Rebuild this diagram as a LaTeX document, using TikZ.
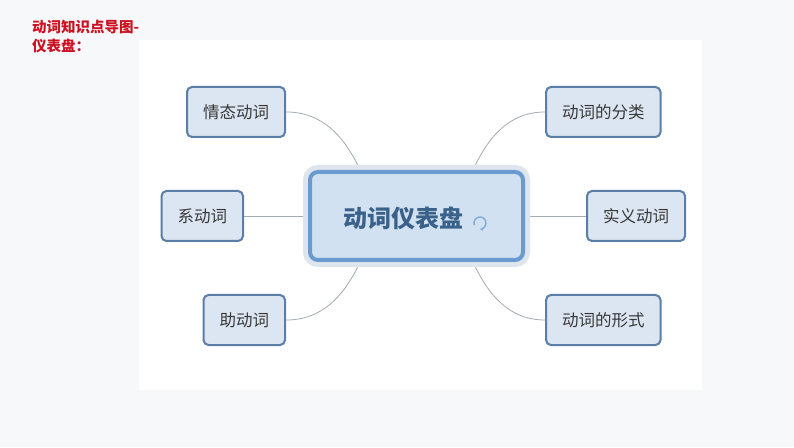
\documentclass[tikz,border=0pt]{standalone}
\usepackage{fontspec}
\setmainfont{Noto Sans CJK SC}
\usetikzlibrary{arrows.meta, positioning, backgrounds, calc}

\definecolor{pageback}{HTML}{F7F8FA}
\definecolor{topicfill}{HTML}{DCE6F2}
\definecolor{topicline}{HTML}{5A7EA6}
\definecolor{topictext}{HTML}{383838}
\definecolor{hubfill}{HTML}{D2E1F1}
\definecolor{hubline}{HTML}{6A9AD0}
\definecolor{hubglow}{HTML}{DEE5ED}
\definecolor{hubtext}{HTML}{3A6189}
\definecolor{branchline}{HTML}{A3ABB3}
\definecolor{iconline}{HTML}{7FAADA}
\definecolor{headred}{HTML}{CC1020}

\begin{document}
\begin{tikzpicture}[x=1pt, y=1pt,
    topic/.style={rectangle, draw=topicline, line width=2pt, fill=topicfill,
                  rounded corners=5pt, minimum height=50pt, inner xsep=16pt,
                  font=\fontsize{16.5}{18}\selectfont, text=topictext},
    hub/.style={rectangle, draw=hubline, line width=4pt, fill=hubfill,
                rounded corners=8pt, minimum width=213pt, minimum height=88pt,
                preaction={draw=hubglow, line width=14pt},
                font=\fontsize{24}{28}\selectfont\bfseries, text=hubtext},
    branch/.style={draw=branchline, line width=0.8pt},
    heading/.style={font=\fontsize{14.5}{19}\selectfont\bfseries, text=headred,
                    align=left, inner sep=0pt},
]
    \useasboundingbox (0,0) rectangle (794,447);

    \node[heading, anchor=north west] (title) at (32,427) {动词知识点导图-\\仪表盘：};

    % central topic
    \node[hub] (dash) at (416.5,231) {\raisebox{-12pt}[0pt][0pt]{动词仪表盘\hspace{26pt}}};
    \draw[iconline, line width=1.4pt, -{Stealth[length=4pt]}]
        ([shift={(63.5,-7)}]dash.center) ++(200:6) arc[start angle=200, end angle=-95, radius=6];

    % left branches
    \node[topic] (modal) [above left=32pt and 22pt of dash] {情态动词};
    \node[topic] (link)  [left=64pt of dash] {系动词};
    \node[topic] (aux)   [below left=32pt and 22pt of dash] {助动词};

    % right branches
    \node[topic] (kinds)    [above right=32pt and 20pt of dash] {动词的分类};
    \node[topic] (notional) [right=61pt of dash] {实义动词};
    \node[topic] (forms)    [below right=32pt and 20pt of dash] {动词的形式};

    \begin{scope}[on background layer]
        \fill[pageback] (0,0) rectangle (794,447);
        \fill[white] (139,57) rectangle (702,407);

        \draw[branch] (modal.east) to[out=0, in=115] ($(dash.north west)!0.24!(dash.north east)$);
        \draw[branch] (link.east) -- (dash.west);
        \draw[branch] (aux.east) to[out=0, in=-115] ($(dash.south west)!0.24!(dash.south east)$);
        \draw[branch] (kinds.west) to[out=180, in=65] ($(dash.north west)!0.76!(dash.north east)$);
        \draw[branch] (dash.east) -- (notional.west);
        \draw[branch] (forms.west) to[out=180, in=-65] ($(dash.south west)!0.76!(dash.south east)$);
    \end{scope}
\end{tikzpicture}
\end{document}
